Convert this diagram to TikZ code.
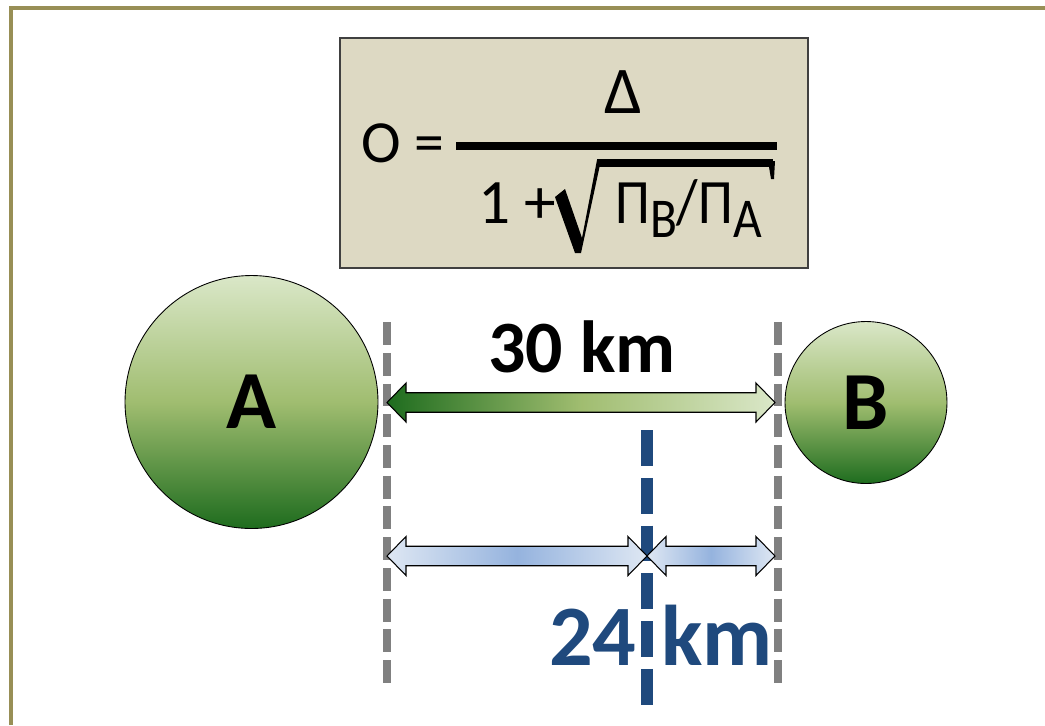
\documentclass[tikz,border=0pt]{standalone}
\usepackage{fontspec}
\setmainfont{Carlito}
\usepackage{xcolor}
\usetikzlibrary{calc, math}

\definecolor{framecol}{RGB}{152,143,86}
\definecolor{boxfill}{RGB}{221,217,195}
\definecolor{darkleaf}{RGB}{30,108,30}
\definecolor{midleaf}{RGB}{160,189,112}
\definecolor{paleleaf}{RGB}{218,231,200}
\definecolor{paleblue}{RGB}{222,231,243}
\definecolor{midblue}{RGB}{149,179,222}
\definecolor{kmblue}{RGB}{31,73,125}

% block arrow with two heads, tip to tip
\newcommand{\distarrow}[3]{%
  \path[#1] let \p1=(#2), \p2=(#3) in
    (\p1) -- ++(\headlen,-\headw) -- ++(0,\headw-\shaftw)
    -- ($(\p2)+(-\headlen,-\shaftw)$) -- ++(0,\shaftw-\headw)
    -- (\p2) -- ++(-\headlen,\headw) -- ++(0,\shaftw-\headw)
    -- ($(\p1)+(\headlen,\shaftw)$) -- ++(0,\headw-\shaftw) -- cycle;}

\begin{document}
\begin{tikzpicture}[x=0.02cm, y=-0.02cm,
  city/.style={circle, draw=black, line width=0.5pt, inner sep=0pt,
    top color=paleleaf, bottom color=darkleaf, middle color=midleaf,
    font=\fontsize{47}{50}\selectfont\bfseries},
  eqtext/.style={inner sep=0pt, font=\fontsize{34}{36}\selectfont},
  greyline/.style={draw=gray, line width=4.5pt, dash pattern=on 13pt off 4.5pt},
  blueline/.style={draw=kmblue, line width=6.8pt, dash pattern=on 20.4pt off 6.8pt},
  greenarrow/.style={draw=black, line width=0.6pt, left color=darkleaf,
    right color=paleleaf, middle color=midleaf},
  bluearrow/.style={draw=black, line width=0.6pt, left color=paleblue,
    right color=paleblue, middle color=midblue}]
\tikzmath{
\headlen=19;
\headw=19.5;
\shaftw=9.75;
}
\useasboundingbox (0,0) rectangle (1045,725);

 %frame
 \draw[framecol, line width=2.3pt] (11,725) -- (11,8) -- (1045,8);

 %formula
 \node[draw=black!75, line width=0.8pt, fill=boxfill, minimum width=9.36cm,
   minimum height=4.6cm] (box) at (574,153) {};
 \node[eqtext, anchor=base west] (lhs) at (361,162) {O =};
 \node[eqtext, font=\fontsize{38}{40}\selectfont, anchor=base] (num) at (623,113) {Δ};
 \coordinate (barL) at (456,146);
 \coordinate (barR) at (777,146);
 \draw[line width=4.5pt] (barL) -- (barR);
 \node[eqtext, font=\fontsize{36}{38}\selectfont, anchor=base west] (one) at (478,223) {1 +};
 \fill (555,197) -- (565,189) -- (582,238) -- (597,160) -- (601,160)
   -- (581,253) -- (575,253) -- cycle;
 \draw[line width=4pt] (597,163) -- (773,163);
 \fill (768,161) -- (775,161) -- (774,179) -- (771,179) -- cycle;
 \node[eqtext, font=\fontsize{36}{38}\selectfont, anchor=base west] (ratio) at (615,223)
   {\scalebox{0.88}[1]{Π\raisebox{-8.5pt}{\fontsize{32}{34}\selectfont B}/Π\raisebox{-8.5pt}{\fontsize{32}{34}\selectfont A}}};

 %towns
 \node[city, minimum size=5.06cm] (A) at (251.5,402) {A};
 \node[city, minimum size=3.24cm] (B) at (866,402.5) {B};

 %dashed lines
 \coordinate (gl1) at (387,322);
 \coordinate (gl2) at (387,690);
 \coordinate (gr1) at (778,322);
 \coordinate (gr2) at (778,690);
 \coordinate (bl1) at (647,430);
 \coordinate (bl2) at (647,706);
 \draw[greyline] (gl1) -- (gl2);
 \draw[greyline] (gr1) -- (gr2);
 \draw[blueline] (bl1) -- (bl2);

 %distances
 \coordinate (d30L) at (387,402.5);
 \coordinate (d30R) at (775,402.5);
 \coordinate (d24L) at (387,556);
 \coordinate (d24M) at (647,556);
 \coordinate (d24R) at (775,556);
 \distarrow{greenarrow}{d30L}{d30R}
 \distarrow{bluearrow}{d24L}{d24M}
 \distarrow{bluearrow}{d24M}{d24R}
 \node[font=\fontsize{42}{44}\selectfont\bfseries, anchor=base] (len30) at (582,372) {30 km};
 \node[font=\fontsize{49}{52}\selectfont\bfseries, text=kmblue, anchor=base] (len24)
   at (661,665) {24\hspace{3pt} km};
\end{tikzpicture}
\end{document}
